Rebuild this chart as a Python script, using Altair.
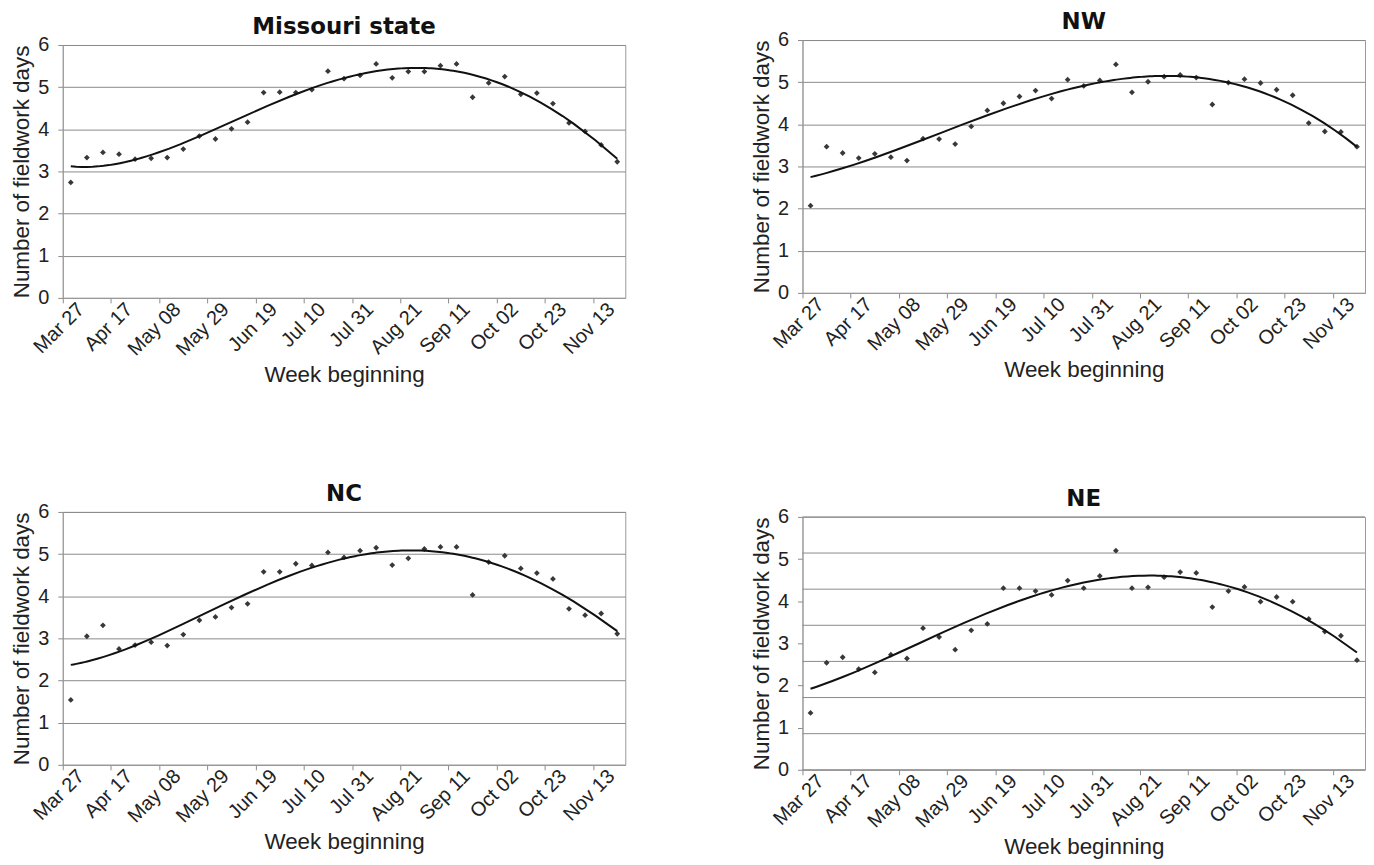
import altair as alt
import pandas as pd

# ---------------- data ----------------
WEEK_INDEX = list(range(35))  # weekly categories, Mar 27 ... Nov 20
TICK_LABELS = ["Mar 27", "Apr 17", "May 08", "May 29", "Jun 19", "Jul 10",
               "Jul 31", "Aug 21", "Sep 11", "Oct 02", "Oct 23", "Nov 13"]
TICK_EDGES = [-0.5, 2.5, 5.5, 8.5, 11.5, 14.5, 17.5, 20.5, 23.5, 26.5, 29.5, 32.5]
Y_TICKS = [0, 1, 2, 3, 4, 5, 6]
NE_GRID = [0, 1, 2, 3, 4, 5, 6, 7]

MISSOURI = [2.74, 3.33, 3.45, 3.41, 3.29, 3.31, 3.33, 3.53, 3.84, 3.77, 4.01, 4.17,
            4.87, 4.88, 4.87, 4.94, 5.38, 5.20, 5.28, 5.55, 5.22, 5.37, 5.37, 5.51,
            5.55, 4.76, 5.10, 5.25, 4.83, 4.86, 4.61, 4.15, 3.95, 3.63, 3.23]
NW = [2.07, 3.47, 3.32, 3.20, 3.30, 3.22, 3.14, 3.66, 3.65, 3.53, 3.95, 4.33,
      4.50, 4.66, 4.80, 4.61, 5.06, 4.91, 5.04, 5.42, 4.76, 5.01, 5.13, 5.17,
      5.11, 4.47, 4.99, 5.07, 4.98, 4.82, 4.69, 4.03, 3.83, 3.82, 3.47]
NC = [1.54, 3.05, 3.31, 2.75, 2.84, 2.91, 2.83, 3.09, 3.43, 3.51, 3.73, 3.82,
      4.58, 4.58, 4.77, 4.73, 5.04, 4.92, 5.08, 5.15, 4.74, 4.90, 5.12, 5.17,
      5.17, 4.03, 4.81, 4.96, 4.66, 4.55, 4.41, 3.70, 3.55, 3.59, 3.11]
NE = [1.35, 2.54, 2.67, 2.39, 2.31, 2.73, 2.64, 3.36, 3.15, 2.85, 3.31, 3.46,
      4.31, 4.31, 4.24, 4.15, 4.49, 4.31, 4.60, 5.20, 4.31, 4.33, 4.57, 4.69,
      4.67, 3.86, 4.24, 4.34, 3.99, 4.10, 3.99, 3.58, 3.28, 3.18, 2.60]

FONT = "Liberation Sans"
TITLE_FONT = "DejaVu Sans"
TEXT = "#222222"
GRID = "#8a8a8a"
BORDER = "#9a9a9a"
W, H = 565, 254

label_expr = ("[" + ",".join("'%s'" % t for t in TICK_LABELS) + "]"
              "[round((datum.value + 0.5) / 3)]")


def x_enc():
    return alt.X(
        "week:Q",
        scale=alt.Scale(domain=[-0.5, 34.5], nice=False, zero=False),
        axis=alt.Axis(values=TICK_EDGES, labelExpr=label_expr, labelAngle=-45,
                      labelAlign="right", labelBaseline="middle", labelOffset=18,
                      labelPadding=3, tickSize=5, grid=False, title="Week beginning",
                      titlePadding=5, labelOverlap=False),
    )


def panel(values, name, ne=False):
    df = pd.DataFrame({"week": WEEK_INDEX, "v": values})
    y = alt.Y("v:Q", scale=alt.Scale(domain=[0, 6], nice=False, zero=True),
              axis=alt.Axis(values=Y_TICKS, grid=not ne, orient="left", tickSize=5,
                            labelPadding=9, titlePadding=4,
                            title="Number of fieldwork days"))
    base = alt.Chart(df)
    pts = base.mark_point(shape="diamond", filled=True, size=34, color="#383838",
                          opacity=1).encode(x=x_enc(), y=y)
    fit = base.mark_line(color="#111111", strokeWidth=2).transform_regression(
        "week", "v", method="poly", order=4).encode(x=x_enc(), y=y)
    data_layer = alt.layer(pts, fit)
    if ne:
        grid = alt.Chart(pd.DataFrame({"g": NE_GRID})).mark_rule(
            color=GRID, strokeWidth=1).encode(
            y=alt.Y("g:Q", scale=alt.Scale(domain=[0, 7], nice=False), axis=None))
        ch = alt.layer(grid, data_layer).resolve_scale(y="independent")
    else:
        ch = data_layer
    return ch.properties(
        width=W, height=H,
        title=alt.Title(name, fontSize=23, fontWeight="bold", font=TITLE_FONT,
                        color="#111111", offset=-4),
    )


left = alt.vconcat(panel(MISSOURI, "Missouri state"), panel(NC, "NC"), spacing=95)
right = alt.vconcat(panel(NW, "NW"), panel(NE, "NE", ne=True), spacing=105)

chart = alt.hconcat(left, right, spacing=124, center=True).properties(
    padding={"left": 2, "top": 0, "right": 0, "bottom": 0}
).configure_view(
    stroke=BORDER, strokeWidth=1
).configure_axis(
    domainColor=BORDER, tickColor=GRID, gridColor=GRID, gridWidth=1,
    labelColor=TEXT, titleColor=TEXT, labelFont=FONT, titleFont=FONT,
    labelFontSize=20, titleFontSize=22.5, titleFontWeight="normal"
).configure_concat(spacing=0)

chart.save("out.html", embed_options={"renderer": "svg", "actions": False})
